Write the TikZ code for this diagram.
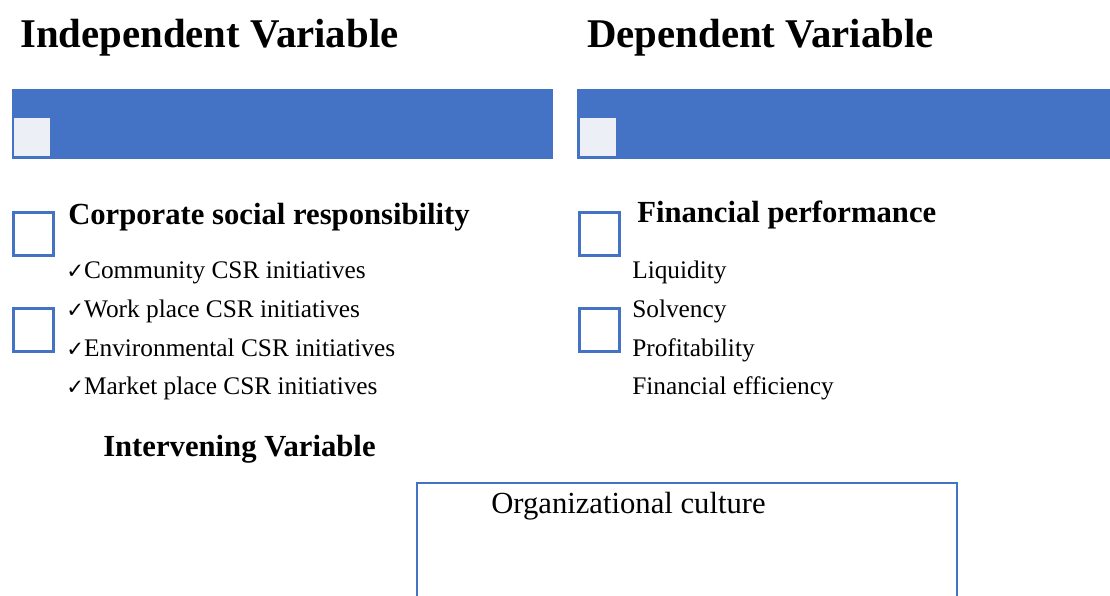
\documentclass[tikz,border=0pt]{standalone}
\usepackage{fontspec}
\setmainfont{Liberation Serif}
\newfontfamily\tickfont{DejaVu Sans}
\usepackage{tikz}
\usetikzlibrary{positioning}
\definecolor{barblue}{RGB}{68,114,196}
\definecolor{paleblue}{RGB}{236,239,246}
\newcommand{\tick}{{\tickfont\fontsize{16}{16}\selectfont ✓}}

\begin{document}
\begin{tikzpicture}[x=0.75pt,y=-0.75pt,
  title/.style={anchor=base west,inner sep=0pt,font=\bfseries\fontsize{30.6}{36}\selectfont},
  head/.style={anchor=base west,inner sep=0pt,font=\bfseries\fontsize{23}{28}\selectfont},
  item/.style={anchor=base west,inner sep=0pt,font=\fontsize{19}{23}\selectfont},
  tickbox/.style={draw=barblue,line width=2.2pt,fill=white,anchor=north west,inner sep=0pt,minimum width=30pt,minimum height=32pt},
  palebox/.style={fill=paleblue,anchor=north west,inner sep=0pt,minimum width=27pt,minimum height=28.5pt}]
\useasboundingbox (0,0) rectangle (1110,596);

% Titles
\node[title] (indep) at (20,47) {Independent Variable};
\node[title] (dep) at (587,47) {Dependent Variable};

% Blue bars
\fill[barblue] (12,89) rectangle (553,159);
\fill[barblue] (577,89) rectangle (1112,159);
\node[palebox] (lpale) at (14,118) {};
\node[palebox] (rpale) at (580,118) {};

% Independent side
\node[tickbox] (lbox1) at (12,211) {};
\node[tickbox] (lbox2) at (12,307) {};
\node[head] (csr) at (68,224) {Corporate social responsibility};
\node[item] (comm) at (66,278) {\tick Community CSR initiatives};
\node[item] (work) at (66,317) {\tick Work place CSR initiatives};
\node[item] (env) at (66,356) {\tick Environmental CSR initiatives};
\node[item] (market) at (66,394) {\tick Market place CSR initiatives};

% Dependent side
\node[tickbox] (rbox1) at (578,211) {};
\node[tickbox] (rbox2) at (578,307) {};
\node[head] (fp) at (637,222) {Financial performance};
\node[item] (liq) at (632,278) {Liquidity};
\node[item] (solv) at (632,317) {Solvency};
\node[item] (prof) at (632,356) {Profitability};
\node[item] (eff) at (632,394) {Financial efficiency};

% Intervening variable
\node[head] (interv) at (103,456) {Intervening Variable};
\draw[barblue,line width=1.6pt] (417,600) -- (417,483) -- (957,483) -- (957,600);
\node[anchor=base west,inner sep=0pt,font=\fontsize{23}{28}\selectfont] (culture) at (491,513) {Organizational culture};
\end{tikzpicture}
\end{document}
